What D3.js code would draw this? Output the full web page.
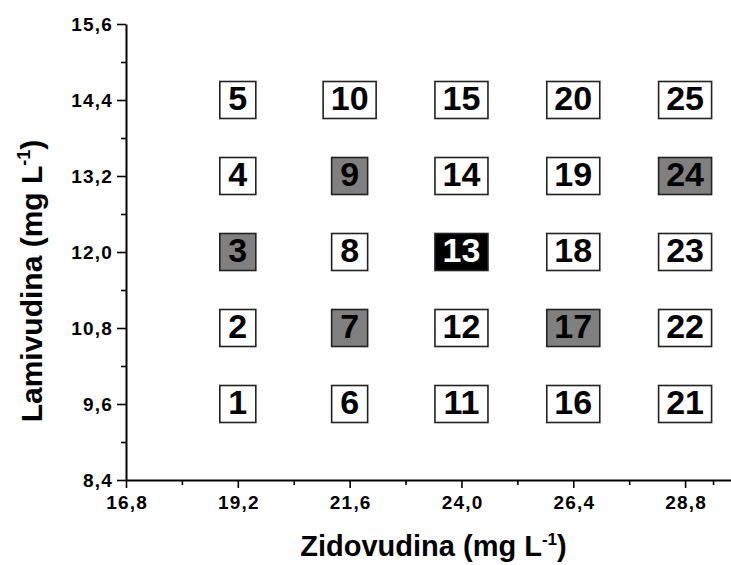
<!DOCTYPE html>
<html>
<head>
<meta charset="utf-8">
<script src="https://cdn.jsdelivr.net/npm/d3@7"></script>
<style>
  body { margin: 0; background: #fff; }
  text { font-family: "Liberation Sans", Arial, sans-serif; font-weight: bold; }
  .tick text { font-size: 19px; letter-spacing: 1.2px; }
</style>
</head>
<body>
<div id="chart"></div>
<script>
// design levels
var xTicks = [16.8, 19.2, 21.6, 24.0, 26.4, 28.8, 30.0];
var yTicks = [8.4, 9.6, 10.8, 12.0, 13.2, 14.4, 15.6];

// experiments (run number, zidovudina, lamivudina, shade)
var runIds = [1, 2, 3, 4, 5, 6, 7, 8, 9, 10, 11, 12, 13, 14, 15, 16, 17, 18, 19, 20, 21, 22, 23, 24, 25];
var runX = [19.2, 19.2, 19.2, 19.2, 19.2, 21.6, 21.6, 21.6, 21.6, 21.6, 24.0, 24.0, 24.0, 24.0, 24.0,
            26.4, 26.4, 26.4, 26.4, 26.4, 28.8, 28.8, 28.8, 28.8, 28.8];
var runY = [9.6, 10.8, 12.0, 13.2, 14.4, 9.6, 10.8, 12.0, 13.2, 14.4, 9.6, 10.8, 12.0, 13.2, 14.4,
            9.6, 10.8, 12.0, 13.2, 14.4, 9.6, 10.8, 12.0, 13.2, 14.4];
var runShade = ["white", "white", "gray", "white", "white", "white", "gray", "white", "gray", "white",
                "white", "white", "black", "white", "white", "white", "gray", "white", "white", "white",
                "white", "white", "white", "gray", "white"];

var runs = runIds.map(function(d, i) {
    return {id: d, x: runX[i], y: runY[i], shade: runShade[i]};
});

var margin = {top: 24, right: 0, bottom: 85, left: 126},
    width = 615,
    height = 456;

var svg = d3.select("#chart").append("svg")
    .attr("width", 731)
    .attr("height", 565)
    .append("g")
    .attr("transform", "translate(" + margin.left + "," + margin.top + ")");

var x = d3.scaleLinear().domain([16.8, 30.0]).range([0, width]);
var y = d3.scaleLinear().domain([8.4, 15.6]).range([height, 0]);

var fmt = function(d) { return d3.format(".1f")(d).replace(".", ","); };
// last x tick falls outside the picture, so no label for it
var xfmt = function(d) { return d >= 30 ? "" : fmt(d); };

// minor ticks
var xMinor = xTicks.slice(0, -1).map(function(d, i) { return (d + xTicks[i + 1]) / 2; });
var yMinor = yTicks.slice(0, -1).map(function(d, i) { return (d + yTicks[i + 1]) / 2; });

svg.append("g")
    .attr("transform", "translate(0," + height + ")")
    .call(d3.axisBottom(x).tickValues(xMinor).tickSize(5).tickFormat(""))
    .call(function(g) { g.select(".domain").remove(); });
svg.append("g")
    .call(d3.axisLeft(y).tickValues(yMinor).tickSize(5).tickFormat(""))
    .call(function(g) { g.select(".domain").remove(); });

var xAxis = svg.append("g")
    .attr("transform", "translate(0," + height + ")")
    .call(d3.axisBottom(x).tickValues(xTicks).tickSize(8).tickSizeOuter(0).tickPadding(8).tickFormat(xfmt));
var yAxis = svg.append("g")
    .call(d3.axisLeft(y).tickValues(yTicks).tickSize(9).tickSizeOuter(0).tickPadding(4).tickFormat(fmt));

[xAxis, yAxis].forEach(function(a) {
    a.attr("font-size", 19).attr("font-family", null);
    a.select(".domain").attr("stroke", "#000").attr("stroke-width", 2);
    a.selectAll("text").attr("fill", "#000");
});
xAxis.selectAll("text").attr("dx", "0.6px");
svg.selectAll(".tick line").attr("stroke", "#000").attr("stroke-width", 1.6);

// boxes
var boxes = svg.append("g").selectAll("g")
    .data(runs)
    .enter().append("g")
    .attr("transform", function(d) { return "translate(" + x(d.x) + "," + y(d.y) + ")"; });

boxes.append("rect")
    .attr("x", function(d) { return -(19 + 17 * String(d.id).length) / 2; })
    .attr("y", -18.5)
    .attr("width", function(d) { return 19 + 17 * String(d.id).length; })
    .attr("height", 37)
    .attr("fill", function(d) { return d.shade == "gray" ? "#808080" : d.shade == "black" ? "#000" : "#fff"; })
    .attr("stroke", "#222")
    .attr("stroke-width", 1.6);

boxes.append("text")
    .attr("text-anchor", "middle")
    .attr("y", 9.5)
    .style("font-size", "34px")
    .attr("fill", function(d) { return d.shade == "black" ? "#fff" : "#000"; })
    .text(function(d) { return d.id; });

// axis titles
var xt = svg.append("text")
    .attr("x", width / 2)
    .attr("y", 532)
    .attr("text-anchor", "middle")
    .style("font-size", "29px");
xt.append("tspan").text("Zidovudina (mg L");
xt.append("tspan").attr("dy", -11).style("font-size", "17px").text("-1");
xt.append("tspan").attr("dy", 11).text(")");

var yt = svg.append("text")
    .attr("transform", "translate(" + (-84) + "," + 257 + ") rotate(-90)")
    .attr("text-anchor", "middle")
    .style("font-size", "30px");
yt.append("tspan").text("Lamivudina (mg L");
yt.append("tspan").attr("dy", -12).style("font-size", "18px").text("-1");
yt.append("tspan").attr("dy", 12).text(")");
</script>
</body>
</html>
